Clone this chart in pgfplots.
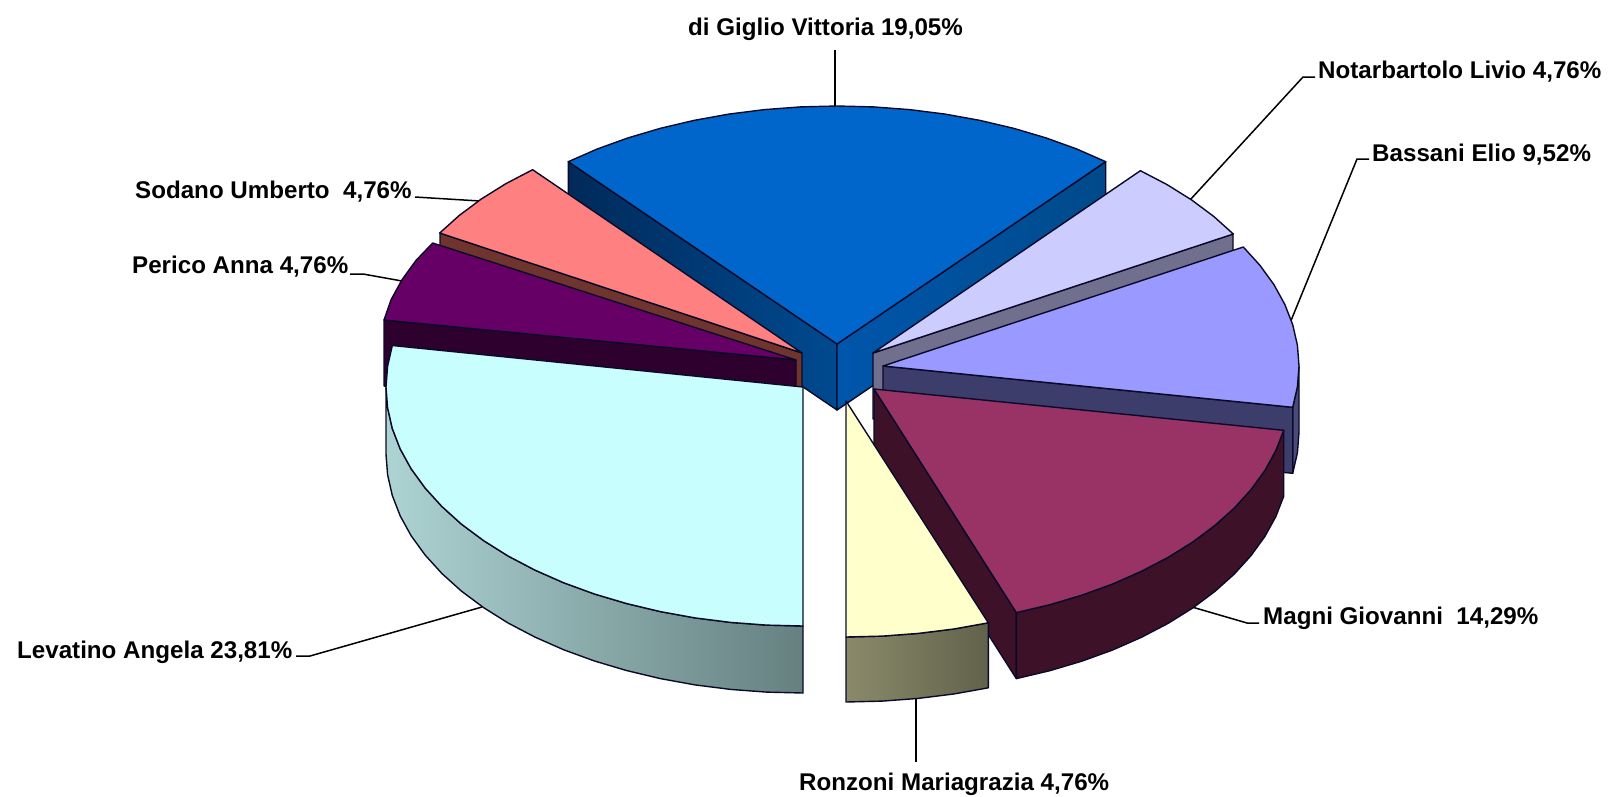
\documentclass[border=0pt]{standalone}
\usepackage{pgfplots}
\pgfplotsset{compat=1.18}
\usepackage{fontspec}
\setmainfont{Liberation Sans}
\definecolor{eb}{HTML}{0A0A28}
\definecolor{c1}{HTML}{002A5A}\definecolor{c1m}{HTML}{002E62}\definecolor{c2}{HTML}{004A90}\definecolor{c3}{HTML}{0056AC}\definecolor{c4}{HTML}{004A8A}\definecolor{c5}{HTML}{0066CC}
\definecolor{c6}{HTML}{70708E}\definecolor{c7}{HTML}{CCCCFF}\definecolor{c8}{HTML}{4A4A7C}\definecolor{c9}{HTML}{3D3D6C}\definecolor{c10}{HTML}{9999FF}
\definecolor{c11}{HTML}{3D1228}\definecolor{c12}{HTML}{993366}\definecolor{c13}{HTML}{70342F}\definecolor{c14}{HTML}{FF8080}\definecolor{c15}{HTML}{2E002E}
\definecolor{c16}{HTML}{660066}\definecolor{c17}{HTML}{ADD3D3}\definecolor{c18}{HTML}{95BDBD}\definecolor{c19}{HTML}{668080}\definecolor{c20}{HTML}{C8FEFE}
\definecolor{c21}{HTML}{8A8A6A}\definecolor{c22}{HTML}{62624C}\definecolor{c23}{HTML}{FFFFCC}
\tikzset{lab/.style={font=\fontsize{24.15}{27}\selectfont\bfseries,inner sep=0pt,anchor=west,text=black}}
\pgfplotsset{edge/.style={draw=eb,line width=1.4pt,line join=round,mark=none,forget plot},
 lead/.style={draw=black,line width=1.5pt,mark=none,forget plot}}
\begin{document}
\begin{tikzpicture}
\useasboundingbox (0,0) rectangle (1608pt,796pt);
\begin{axis}[at={(0,0)},anchor=south west,scale only axis,width=1608pt,height=796pt,
 xmin=0,xmax=1608,ymin=0,ymax=796,y dir=reverse,hide axis,clip=false]
% leaders behind the pie
\addplot[lead] coordinates {(835,50) (835,107)};
\addplot[lead] coordinates {(1190,200) (1303,77) (1315,77)};
\addplot[lead] coordinates {(1290,323) (1357,159) (1369,159)};
\addplot[lead] coordinates {(1192,607) (1247,623) (1259,623)};
\addplot[lead] coordinates {(916,698) (916,762)};
\addplot[lead] coordinates {(482,607) (310,656) (296,656)};
\addplot[lead] coordinates {(350,274) (363,274) (402,281)};
\addplot[lead] coordinates {(415,197) (480,201)};
% di Giglio Vittoria
\addplot[edge,left color=c1,middle color=c1m,right color=c2] coordinates {(568.3,161.7) (837,344) (837,410) (568.3,227.7)} -- cycle;
\addplot[edge,left color=c3,right color=c4] coordinates {(837,344) (1105.7,161.7) (1105.7,227.7) (837,410)} -- cycle;
\addplot[edge,fill=c5] coordinates {(837,344) (568.3,161.7) (597.2,149) (628,137.9) (660.4,128.3) (694,120.4) (728.8,114.1) (764.4,109.6) (800.6,106.9) (837,106) (873.4,106.9) (909.6,109.6) (945.2,114.1) (980,120.4) (1013.6,128.3) (1046,137.9) (1076.8,149) (1105.7,161.7)} -- cycle;
% Notarbartolo Livio
\addplot[edge,fill=c6] coordinates {(873,353) (1233,234) (1233,300) (873,419)} -- cycle;
\addplot[edge,fill=c7] coordinates {(873,353) (1140.4,170.7) (1167.2,184.7) (1191.7,200) (1213.8,216.5) (1233.3,234)} -- cycle;
% Bassani Elio
\addplot[edge,fill=c8] coordinates {(1299,366) (1297.4,386.8) (1292.7,407.3) (1292.7,473.3) (1297.4,452.8) (1299,432)} -- cycle;
\addplot[edge,fill=c9] coordinates {(883,366) (1292.7,407.3) (1292.7,473.3) (883,432)} -- cycle;
\addplot[edge,fill=c10] coordinates {(883,366) (1243.3,247) (1260,265.4) (1273.9,284.6) (1284.8,304.4) (1292.7,324.7) (1297.4,345.2) (1299,366) (1297.4,386.8) (1292.7,407.3)} -- cycle;
% Magni Giovanni
\addplot[edge,fill=c11] coordinates {(874,389) (1016.3,612.6) (1016.3,678.6) (874,455)} -- cycle;
\addplot[edge,fill=c11] coordinates {(1283.7,430.3) (1275.8,450.6) (1264.9,470.4) (1251,489.6) (1234.3,508) (1214.8,525.5) (1192.7,542) (1168.2,557.3) (1141.4,571.3) (1112.6,584) (1082,595.1) (1049.8,604.7) (1016.3,612.6) (1016.3,678.6) (1049.8,670.7) (1082,661.1) (1112.6,650) (1141.4,637.3) (1168.2,623.3) (1192.7,608) (1214.8,591.5) (1234.3,574) (1251,555.6) (1264.9,536.4) (1275.8,516.6) (1283.7,496.3)} -- cycle;
\addplot[edge,fill=c12] coordinates {(874,389) (1283.7,430.3) (1275.8,450.6) (1264.9,470.4) (1251,489.6) (1234.3,508) (1214.8,525.5) (1192.7,542) (1168.2,557.3) (1141.4,571.3) (1112.6,584) (1082,595.1) (1049.8,604.7) (1016.3,612.6)} -- cycle;
% Sodano Umberto
\addplot[edge,fill=c13] coordinates {(802,353) (802,419) (440,299) (440,233)} -- cycle;
\addplot[edge,fill=c14] coordinates {(802,353) (439.7,233) (459.2,215.5) (481.3,199) (505.8,183.7) (532.6,169.7)} -- cycle;
% Perico Anna
\addplot[edge,fill=c15] coordinates {(796,360) (796,426) (384,386) (384,320)} -- cycle;
\addplot[edge,fill=c16] coordinates {(796,360) (384,320) (391.2,299.4) (402.1,279.6) (416,260.4) (432.7,243)} -- cycle;
% Levatino Angela
\addplot[edge,left color=c17,middle color=c18,right color=c19] coordinates {(803,626) (766.7,625.1) (730.6,622.4) (695.1,617.9) (660.4,611.6) (626.8,603.6) (594.5,594) (563.8,582.8) (535,570.1) (508.1,556) (483.6,540.6) (461.4,524.1) (441.9,506.5) (425.1,488) (411.1,468.7) (400.2,448.9) (392.3,428.5) (387.6,407.8) (386,387) (386,454) (387.6,474.8) (392.3,495.5) (400.2,515.9) (411.1,535.7) (425.1,555) (441.9,573.5) (461.4,591.1) (483.6,607.6) (508.1,623) (535,637.1) (563.8,649.8) (594.5,661) (626.8,670.6) (660.4,678.6) (695.1,684.9) (730.6,689.4) (766.7,692.1) (803,693)} -- cycle;
\addplot[edge,fill=c20] coordinates {(803,387) (392.3,345.5) (387.6,366.2) (386,387) (387.6,407.8) (392.3,428.5) (400.2,448.9) (411.1,468.7) (425.1,488) (441.9,506.5) (461.4,524.1) (483.6,540.6) (508.1,556) (535,570.1) (563.8,582.8) (594.5,594) (626.8,603.6) (660.4,611.6) (695.1,617.9) (730.6,622.4) (766.7,625.1) (803,626)} -- cycle;
% Ronzoni Mariagrazia
\addplot[edge,left color=c21,right color=c22] coordinates {(846,637) (882.3,636.1) (918.2,633.4) (953.7,629) (988.3,622.8) (988.3,687.8) (953.7,694) (918.2,698.4) (882.3,701.1) (846,702)} -- cycle;
\addplot[edge,fill=c23] coordinates {(846,401) (988.3,622.8) (953.7,629) (918.2,633.4) (882.3,636.1) (846,637)} -- cycle;
% labels
\node[lab] at (axis cs:688,29) {di Giglio Vittoria 19,05\%};
\node[lab] at (axis cs:1318,72) {Notarbartolo Livio 4,76\%};
\node[lab] at (axis cs:1372,155) {Bassani Elio 9,52\%};
\node[lab] at (axis cs:1263,618) {Magni Giovanni\ \ 14,29\%};
\node[lab] at (axis cs:799,784) {Ronzoni Mariagrazia 4,76\%};
\node[lab] at (axis cs:17,652) {Levatino Angela 23,81\%};
\node[lab] at (axis cs:132,267) {Perico Anna 4,76\%};
\node[lab] at (axis cs:135,192) {Sodano Umberto\ \ 4,76\%};
\end{axis}
\end{tikzpicture}
\end{document}
